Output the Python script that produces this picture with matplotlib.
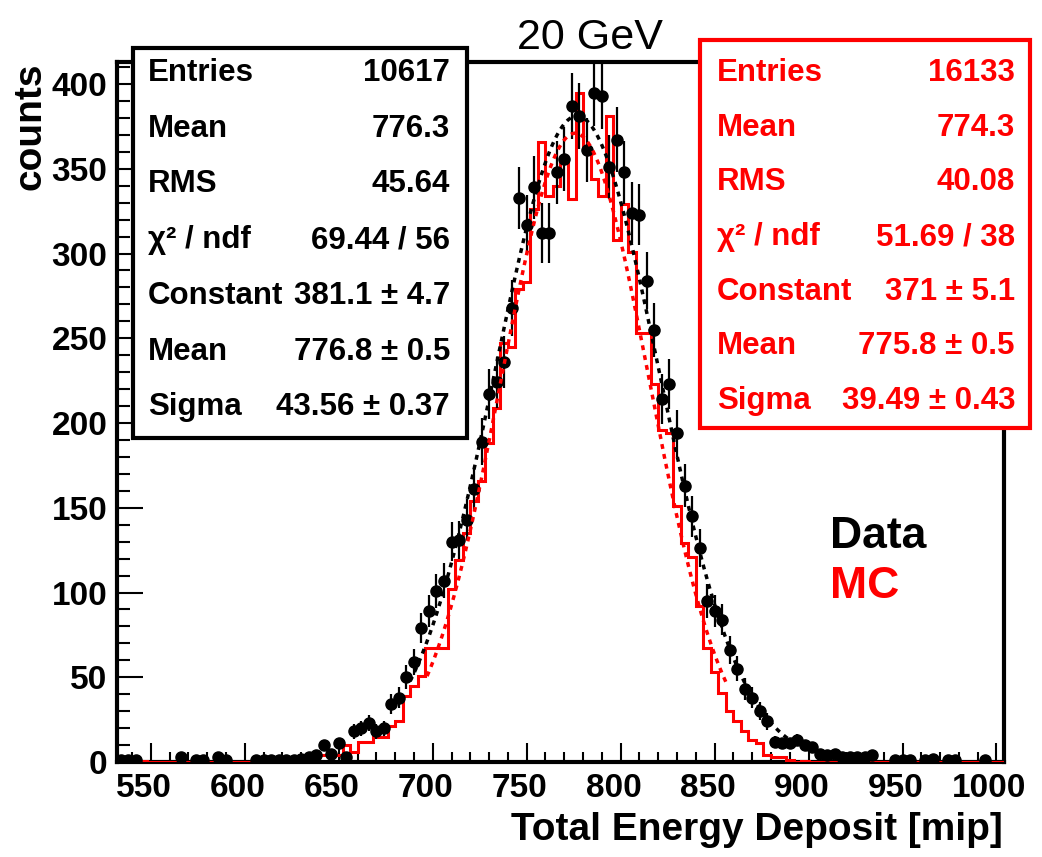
import matplotlib
matplotlib.use("Agg")
import matplotlib.pyplot as plt
import numpy as np
from matplotlib.patches import Rectangle
from matplotlib.ticker import MultipleLocator
from matplotlib.transforms import ScaledTranslation

plt.rcParams["font.family"] = ["Liberation Sans", "DejaVu Sans"]

# histogram binning (mip)
bin_lo = 532
bin_width = 4

# data counts per bin, 534 ... 1002
data_counts = [
    1, 1, 1, 0, 0, 0, 0, 0, 3, 0,
    1, 1, 0, 3, 1, 0, 0, 0, 1, 1,
    1, 1, 1, 1, 2, 3, 4, 10, 5, 11,
    3, 18, 20, 23, 18, 20, 34, 38, 50, 59,
    79, 89, 101, 107, 130, 131, 143, 161, 189, 217,
    224, 236, 268, 333, 317, 339, 312, 312, 348, 356,
    387, 381, 361, 395, 393, 351, 367, 348, 324, 323,
    284, 255, 214, 223, 194, 163, 145, 126, 95, 89,
    84, 66, 55, 43, 38, 30, 24, 12, 11, 11,
    13, 10, 9, 5, 4, 5, 3, 3, 3, 3,
    4, 0, 0, 1, 1, 1, 0, 1, 2, 0,
    1, 1, 0, 0, 0, 1, 0, 0,
]

# MC (normalised to data) per bin
mc_counts = [
    0.7, 0.7, 0.7, 0.3, 0, 0, 0, 0, 0, 0,
    0, 0, 0, 0, 0, 0, 0, 0, 0.7, 0.7,
    0.7, 0.7, 0.7, 0.7, 0.7, 2.6, 4, 4, 4, 4,
    10, 6, 12, 12, 15, 15, 21, 24, 39, 45,
    51, 67, 67, 67, 102, 119, 135, 154, 166, 188,
    209, 247, 245, 279, 283, 326, 366, 334, 340, 354,
    332, 395, 362, 344, 334, 381, 308, 329, 301, 253,
    253, 223, 196, 194, 151, 129, 121, 92, 67, 53,
    41, 30, 24, 18, 13, 11, 4, 3, 3, 1,
    0, 0.7, 0, 0, 0, 0, 0, 0, 0, 0,
    0, 0, 0, 0, 0, 0, 0, 0, 0, 0,
    0, 0, 0, 0, 0, 0, 0, 0,
]

# gaussian fits: constant, mean, sigma, and fit range
data_fit = (381.1, 776.8, 43.56)
data_fit_range = (688, 893)
mc_fit = (371.0, 775.8, 39.49)
mc_fit_range = (697, 857)

stat_labels = ["Entries", "Mean", "RMS", "χ² / ndf", "Constant", "Mean", "Sigma"]
data_stats = ["10617", "776.3", "45.64", "69.44 / 56", "381.1 ± 4.7", "776.8 ± 0.5", "43.56 ± 0.37"]
mc_stats = ["16133", "774.3", "40.08", "51.69 / 38", "371 ± 5.1", "775.8 ± 0.5", "39.49 ± 0.43"]

W, H = 1042, 857


def fx(px):
    return px / W


def fy(py):
    return 1 - py / H


def gauss(x, c, m, s):
    return c * np.exp(-0.5 * ((x - m) / s) ** 2)


data = np.array(data_counts, dtype=float)
mc = np.array(mc_counts, dtype=float)
edges = bin_lo + bin_width * np.arange(len(data) + 1)
centers = edges[:-1] + bin_width / 2

fig = plt.figure(figsize=(W / 100, H / 100), dpi=100)
ax = fig.add_axes([fx(117), fy(762), fx(1004) - fx(117), fy(62) - fy(762)])

ax.stairs(mc, edges, color="red", lw=2.2, zorder=3)
mask = data > 0
ax.errorbar(centers[mask], data[mask], yerr=np.sqrt(data[mask]), fmt="o", color="black",
            ms=8, elinewidth=1.6, capsize=0, zorder=4)

xs = np.linspace(*data_fit_range, 300)
ax.plot(xs, gauss(xs, *data_fit), color="black", lw=2.5, ls=(0, (1.4, 1.5)), zorder=5)
xs = np.linspace(*mc_fit_range, 300)
ax.plot(xs, gauss(xs, *mc_fit), color="red", lw=2.5, ls=(0, (1.4, 1.5)), zorder=5)

ax.set_xlim(532, 1004)
ax.set_ylim(0, 413)
ax.xaxis.set_major_locator(MultipleLocator(50))
ax.xaxis.set_minor_locator(MultipleLocator(10))
ax.yaxis.set_major_locator(MultipleLocator(50))
ax.yaxis.set_minor_locator(MultipleLocator(10))
ax.tick_params(which="both", direction="in", top=False, right=False, width=1.5)
ax.tick_params(axis="x", which="major", length=14, pad=8)
ax.tick_params(axis="x", which="minor", length=7)
ax.tick_params(axis="y", which="major", length=19, pad=7)
ax.tick_params(axis="y", which="minor", length=9)
shift = ScaledTranslation(-7 / 100, 0, fig.dpi_scale_trans)
for lab in ax.get_xticklabels():
    lab.set_transform(lab.get_transform() + shift)
for lab in ax.get_xticklabels() + ax.get_yticklabels():
    lab.set_fontsize(24)
    lab.set_fontweight("bold")
for sp in ax.spines.values():
    sp.set_linewidth(3)

fig.text(fx(1003), fy(830), "Total Energy Deposit [mip]", ha="right", va="center",
         fontsize=28, fontweight="bold")
fig.text(fx(30), fy(62), "counts", rotation=90, ha="center", va="top",
         fontsize=28, fontweight="bold")
fig.text(fx(590), fy(38), "20 GeV", ha="center", va="center", fontsize=31)

fig.text(fx(830), fy(537), "Data", ha="left", va="center", fontsize=32,
         fontweight="bold", color="black")
fig.text(fx(830), fy(586), "MC", ha="left", va="center", fontsize=32,
         fontweight="bold", color="red")

# stats boxes
boxes = [
    (133, 48, 467, 438, "black", data_stats, 148, 450, 73, 55.7),
    (700, 40, 1030, 428, "red", mc_stats, 717, 1015, 73, 54.7),
]
for x0, y0, x1, y1, col, vals, lx, rx, ry0, dy in boxes:
    fig.patches.append(Rectangle((fx(x0), fy(y1)), fx(x1) - fx(x0), fy(y0) - fy(y1),
                                 transform=fig.transFigure, facecolor="white",
                                 edgecolor=col, lw=3, zorder=6))
    for i, (lab, val) in enumerate(zip(stat_labels, vals)):
        yy = fy(ry0 + i * dy)
        fig.text(fx(lx), yy, lab, ha="left", va="center", fontsize=22.5,
                 fontweight="bold", color=col, zorder=7)
        fig.text(fx(rx), yy, val, ha="right", va="center", fontsize=22.5,
                 fontweight="bold", color=col, zorder=7)

fig.savefig("out.png", dpi=100)
